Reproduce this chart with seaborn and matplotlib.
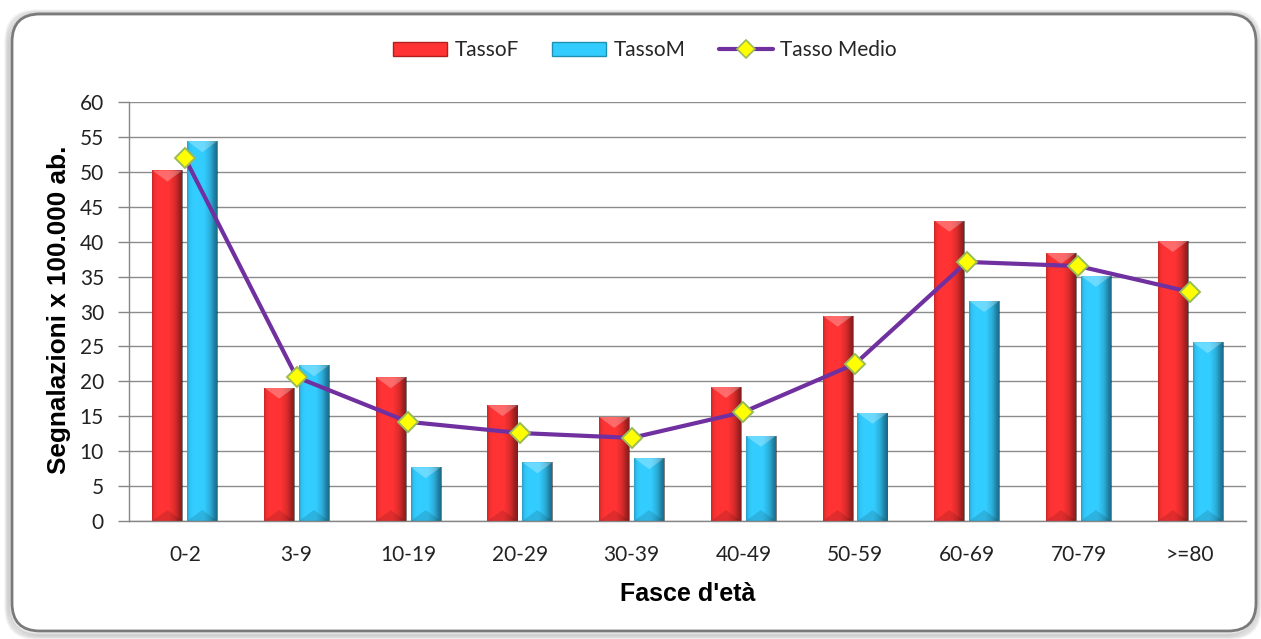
import numpy as np
import pandas as pd
import matplotlib
matplotlib.use("Agg")
import matplotlib.pyplot as plt
from matplotlib.patches import FancyBboxPatch, Patch, Polygon
from matplotlib.lines import Line2D
import seaborn as sns

# --- data -----------------------------------------------------------------
fasce = ["0-2", "3-9", "10-19", "20-29", "30-39", "40-49",
         "50-59", "60-69", "70-79", ">=80"]
tasso_f = [50.2, 19.1, 20.6, 16.6, 14.9, 19.2, 29.4, 43.0, 38.4, 40.1]
tasso_m = [54.4, 22.3, 7.7, 8.4, 9.0, 12.2, 15.5, 31.5, 35.1, 25.6]
tasso_medio = [52.0, 20.6, 14.2, 12.6, 11.9, 15.6, 22.5, 37.1, 36.5, 32.8]
y_ticks = list(range(0, 61, 5))

serie_barre = ["TassoF", "TassoM"]
colori = {"TassoF": "#FF3333", "TassoM": "#33CCFF"}
col_linea = "#7030A0"

bars = pd.DataFrame({
    "fascia": fasce * 2,
    "serie": ["TassoF"] * len(fasce) + ["TassoM"] * len(fasce),
    "valore": tasso_f + tasso_m,
})
medio = pd.DataFrame({"fascia": fasce, "valore": tasso_medio})

# --- style ----------------------------------------------------------------
sns.set_theme(style="white")
plt.rcParams["font.family"] = ["Lato", "DejaVu Sans"]

W, H = 1261, 639
fig = plt.figure(figsize=(W / 100, H / 100), dpi=100)
fig.patch.set_facecolor("white")

# rounded chart frame with a soft shadow
bg = fig.add_axes([0, 0, 1, 1], zorder=-5)
bg.set_xlim(0, W)
bg.set_ylim(H, 0)
bg.axis("off")
for i, a in enumerate([0.05, 0.05, 0.06, 0.07, 0.08]):
    grow = 5 - i
    bg.add_patch(FancyBboxPatch((12 - grow - 1, 14 - grow + 2), 1244 + 2 * grow, 617 + 2 * grow,
                                boxstyle="round,pad=0,rounding_size=30",
                                fc="none", ec=(0, 0, 0, a), lw=2.2))
bg.add_patch(FancyBboxPatch((12, 14), 1244, 617,
                            boxstyle="round,pad=0,rounding_size=28",
                            fc="white", ec="#7A7A7A", lw=2.0))

ax = fig.add_axes([129 / W, 1 - 521 / H, (1246 - 129) / W, (521 - 102) / H])
ax.set_facecolor("none")

sns.barplot(data=bars, x="fascia", y="valore", hue="serie", order=fasce,
            hue_order=serie_barre, palette=colori, width=0.625, gap=0.14,
            saturation=1, legend=False, ax=ax, zorder=2, linewidth=0)

sns.pointplot(data=medio, x="fascia", y="valore", order=fasce, color=col_linea,
              markers="D", errorbar=None, ax=ax, linewidth=3.0)
for ln in ax.lines:
    ln.set_markerfacecolor("#FFFF00")
    ln.set_markeredgecolor("#9BBB59")
    ln.set_markeredgewidth(1.4)
    ln.set_markersize(10)
    ln.set_zorder(6)
for coll in ax.collections:
    coll.set_zorder(6)

ax.set_ylim(0, 60)
ax.set_xlim(-0.5, len(fasce) - 0.5)

# cylinder-like shading on every bar
px_per_unit = (521 - 102) / 60.0
xs = np.linspace(0, 1, 64)
shade_alpha = np.interp(xs, [0, 0.08, 0.2, 0.55, 0.75, 0.9, 1.0],
                        [0.22, 0.05, 0.0, 0.0, 0.15, 0.38, 0.5])
grad = np.zeros((1, xs.size, 4))
grad[..., 3] = shade_alpha
for p in list(ax.patches):
    x0, w = p.get_x(), p.get_width()
    h = p.get_height()
    if h <= 0:
        continue
    im = ax.imshow(grad, extent=(x0, x0 + w, 0, h), aspect="auto",
                   interpolation="bilinear", zorder=2.5)
    im.set_clip_path(p)
    tri_h = 11 / px_per_unit
    ax.add_patch(Polygon([(x0, h), (x0 + w, h), (x0 + w / 2, h - tri_h)],
                         closed=True, fc=(1, 1, 1, 0.28), ec="none", zorder=2.6))
    ax.add_patch(Polygon([(x0, 0), (x0 + w, 0), (x0 + w / 2, tri_h)],
                         closed=True, fc=(0, 0, 0, 0.12), ec="none", zorder=2.6))

ax.set_ylim(0, 60)
ax.set_xlim(-0.5, len(fasce) - 0.5)

# grid and axes
ax.set_yticks(y_ticks)
ax.yaxis.grid(True, color="#8C8C8C", lw=1.0, zorder=0)
ax.set_axisbelow(True)
ax.xaxis.grid(False)
for s in ["top", "right"]:
    ax.spines[s].set_visible(False)
for s in ["left", "bottom"]:
    ax.spines[s].set_color("#868686")
    ax.spines[s].set_linewidth(1.0)

ax.set_xticks(range(len(fasce)))
ax.set_xticklabels(fasce)
ax.set_xticks(np.arange(-0.5, len(fasce), 1), minor=True)
ax.tick_params(axis="x", which="major", length=0, pad=17, labelsize=15, labelcolor="#222222")
ax.tick_params(axis="x", which="minor", length=7, width=1, color="#868686", direction="out")
ax.tick_params(axis="y", which="major", length=8, width=1, color="#868686", direction="out",
               pad=10, labelsize=15, labelcolor="#222222", left=True)

ax.set_xlabel("Fasce d'età", fontsize=18, fontweight="bold",
              family=["Liberation Sans", "DejaVu Sans"], color="black")
ax.set_ylabel("Segnalazioni x 100.000 ab.", fontsize=18.8, fontweight="bold",
              family=["Liberation Sans", "DejaVu Sans"], color="black")
ax.xaxis.set_label_coords(0.5, -0.145)
ax.yaxis.set_label_coords(-0.052, 0.505)

# legend above the plot
handles = [
    Patch(facecolor=colori["TassoF"], edgecolor="#B02020", linewidth=1.0),
    Patch(facecolor=colori["TassoM"], edgecolor="#2090B0", linewidth=1.0),
    Line2D([0], [0], color=col_linea, lw=3, marker="D", markersize=9,
           markerfacecolor="#FFFF00", markeredgecolor="#9BBB59", markeredgewidth=1.2),
]
fig.legend(handles, ["TassoF", "TassoM", "Tasso Medio"], loc="center",
           bbox_to_anchor=(645 / W, 1 - 50 / H), ncol=3, frameon=False,
           prop={"family": ["Lato", "DejaVu Sans"], "size": 15},
           handlelength=2.6, handleheight=0.65, columnspacing=1.6, handletextpad=0.35)

fig.savefig("out.png", dpi=100, facecolor="white")
